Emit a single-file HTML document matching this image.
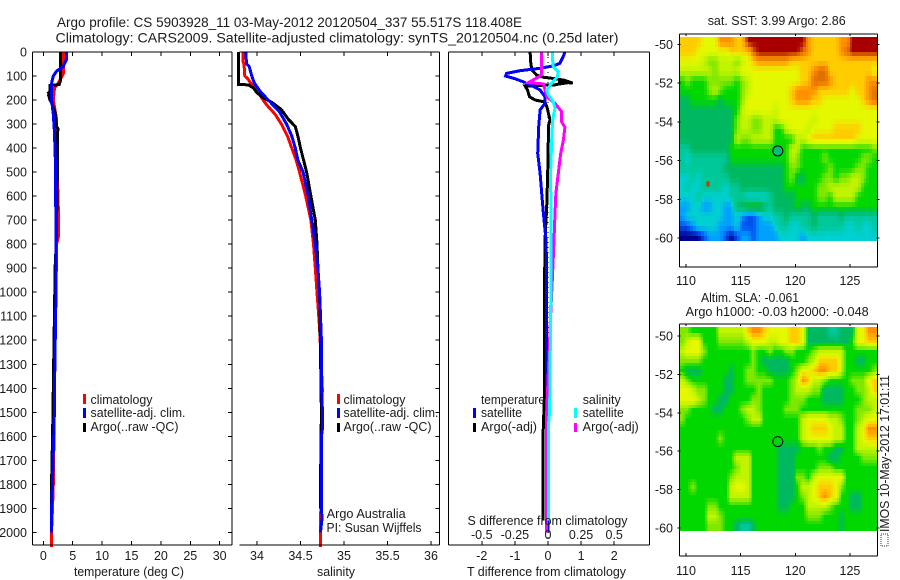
<!DOCTYPE html>
<html>
<head>
<meta charset="utf-8">
<title>Argo profile</title>
<style>
html,body{margin:0;padding:0;background:#fff;}
svg{display:block;font-family:"Liberation Sans",sans-serif;fill:#000;}
text{font-size:12.5px;fill:#1a1a1a;}
.t{font-size:14px;}
</style>
</head>
<body>
<svg id="chart" xmlns="http://www.w3.org/2000/svg" width="900" height="580" viewBox="0 0 900 580">
<rect x="0" y="0" width="900" height="580" fill="#fff"/>
<text class="t" x="57" y="27" textLength="465" lengthAdjust="spacingAndGlyphs">Argo profile: CS 5903928_11 03-May-2012 20120504_337 55.517S 118.408E</text>
<text class="t" x="55.5" y="42.5" textLength="563" lengthAdjust="spacingAndGlyphs">Climatology: CARS2009. Satellite-adjusted climatology: synTS_20120504.nc (0.25d later)</text>

<g id="temp-panel"></g>
<g id="sal-panel"></g>
<g id="diff-panel"></g>
<g id="sst-map"></g>
<g id="sla-map"></g>

<text x="74" y="576" textLength="110" lengthAdjust="spacingAndGlyphs">temperature (deg C)</text>
<text x="317" y="576" textLength="38" lengthAdjust="spacingAndGlyphs">salinity</text>
<text x="467" y="576" textLength="159" lengthAdjust="spacingAndGlyphs">T difference from climatology</text>
<text x="467.5" y="525" textLength="160" lengthAdjust="spacingAndGlyphs">S difference from climatology</text>

<g>
<rect x="83" y="394" width="3" height="10" fill="#f00"/>
<text x="90.5" y="404" textLength="62" lengthAdjust="spacingAndGlyphs">climatology</text>
<rect x="83" y="408" width="3" height="10" fill="#00f"/>
<text x="90.5" y="417" textLength="95" lengthAdjust="spacingAndGlyphs">satellite-adj. clim.</text>
<rect x="83" y="423" width="3" height="9" fill="#000"/>
<text x="90.5" y="431" textLength="88" lengthAdjust="spacingAndGlyphs">Argo(..raw -QC)</text>
</g>
<g>
<rect x="337" y="394" width="3" height="10" fill="#f00"/>
<text x="343.5" y="404" textLength="62" lengthAdjust="spacingAndGlyphs">climatology</text>
<rect x="337" y="408" width="3" height="10" fill="#00f"/>
<text x="343.5" y="417" textLength="95" lengthAdjust="spacingAndGlyphs">satellite-adj. clim.</text>
<rect x="337" y="423" width="3" height="9" fill="#000"/>
<text x="343.5" y="431" textLength="88" lengthAdjust="spacingAndGlyphs">Argo(..raw -QC)</text>
</g>
<text x="326.7" y="518" textLength="79" lengthAdjust="spacingAndGlyphs">Argo Australia</text>
<text x="326.5" y="532" textLength="95" lengthAdjust="spacingAndGlyphs">PI: Susan Wijffels</text>
<g>
<text x="481" y="404" textLength="64" lengthAdjust="spacingAndGlyphs">temperature</text>
<rect x="473" y="408" width="3" height="10" fill="#00f"/>
<text x="481" y="417" textLength="41" lengthAdjust="spacingAndGlyphs">satellite</text>
<rect x="473" y="423" width="3" height="9" fill="#000"/>
<text x="481" y="431" textLength="56" lengthAdjust="spacingAndGlyphs">Argo(-adj)</text>
<text x="582.7" y="404" textLength="38" lengthAdjust="spacingAndGlyphs">salinity</text>
<rect x="574" y="408" width="3" height="10" fill="#0ff"/>
<text x="582.7" y="417" textLength="41" lengthAdjust="spacingAndGlyphs">satellite</text>
<rect x="574" y="423" width="3" height="9" fill="#f0f"/>
<text x="582.7" y="431" textLength="56" lengthAdjust="spacingAndGlyphs">Argo(-adj)</text>
</g>

<text x="707.7" y="25" textLength="138" lengthAdjust="spacingAndGlyphs">sat. SST: 3.99 Argo: 2.86</text>
<text x="701" y="302" textLength="98" lengthAdjust="spacingAndGlyphs">Altim. SLA: -0.061</text>
<text x="685.7" y="316" textLength="183" lengthAdjust="spacingAndGlyphs">Argo h1000: -0.03 h2000: -0.048</text>

<g transform="translate(889,532) rotate(-90)">
<text x="0" y="0" textLength="157" lengthAdjust="spacingAndGlyphs">IMOS 10-May-2012 17:01:11</text>
</g>
<rect x="881" y="534" width="7" height="12" fill="#fff" stroke="#333" stroke-width="1" stroke-dasharray="1 1"/>
</svg>

<script>
// ---- depth axis
const depthTicks = [0,100,200,300,400,500,600,700,800,900,1000,1100,1200,1300,1400,1500,1600,1700,1800,1900,2000];

// ---- temperature panel data
const tempTicks = [0,5,10,15,20,25,30];
const tempClimDepth = [0,90,130,150,200,280,400,650,770,800,1000,1400,1750,1800,1900,2000,2060];
const tempClimValue = [3.4,3.4,2.55,1.9,1.7,2.27,2.27,2.55,2.55,2.27,2.16,1.9,1.73,1.7,1.56,1.4,1.4];
const tempArgoDepth = [0,120,135,140,165,170,175,180,200,210,250,310,320,340,500,650,800,900,1000,1400,1500,1600,1700,1800,1850,1900];
const tempArgoValue = [2.9,2.9,2.7,1.14,1.14,0.9,1.14,0.9,1.14,1.4,2.0,2.27,2.5,2.4,2.4,2.3,2.2,2.0,1.95,1.7,1.65,1.56,1.5,1.39,1.39,1.42];
const tempSatDepth = [0,30,60,80,100,130,200,260,330,480,900,1000,1400,1550,1600,1800,1850,1900,2000];
const tempSatValue = [3.97,3.97,3.4,2.27,1.7,1.42,1.42,1.7,1.88,2.1,2.16,2.16,1.9,1.85,1.77,1.55,1.5,1.4,1.37];

// ---- salinity panel data
const salTicks = [34,34.5,35,35.5,36];
const salClimDepth = [0,40,50,100,110,130,160,200,220,260,300,350,400,450,500,600,700,800,900,1000,1150,1400,2000,2060];
const salClimValue = [33.84,33.84,33.85,33.86,33.89,33.93,34.0,34.07,34.11,34.21,34.28,34.35,34.4,34.45,34.49,34.56,34.62,34.65,34.67,34.69,34.72,34.75,34.73,34.73];
const salArgoDepth = [0,135,137,150,170,190,210,240,280,310,350,400,500,600,700,800,900,1000,1500,1800,1900];
const salArgoValue = [33.79,33.79,33.9,33.96,34.0,34.07,34.17,34.28,34.36,34.44,34.47,34.5,34.57,34.62,34.67,34.69,34.7,34.72,34.74,34.73,34.73];
const salSatDepth = [0,50,60,100,130,170,200,250,300,350,400,450,500,600,700,800,900,1000,1200,1450,1500,1560,1600,1700,1950,2000];
const salSatValue = [33.87,33.88,33.91,33.94,33.97,34.05,34.13,34.26,34.34,34.4,34.44,34.47,34.53,34.59,34.63,34.67,34.7,34.72,34.74,34.745,34.755,34.755,34.74,34.74,34.745,34.73];

// ---- difference panel data
const diffTTicks = [-2,-1,0,1,2];
const diffSTickLabels = ["-0.5","-0.25","0","0.25","0.5"];
const diffTArgoDepth = [0,47,75,96,105,112,118,130,122,128,134,136,142,158,186,200,208,235,283,311,366,505,644,783,922,1400,1600,1950];
const diffTArgoValue = [-0.54,-0.52,-0.49,-0.34,-0.14,0.26,0.5,0.75,0.3,0.6,0.3,0.26,-0.69,-0.62,-0.56,-0.39,-0.09,-0.02,0.06,0.01,0.01,-0.01,-0.04,-0.09,-0.1,-0.1,-0.15,-0.15];
const diffTSatDepth = [0,19,47,58,68,78,89,100,111,124,137,158,186,214,241,311,422,505,588,672,783,922,1400,2000];
const diffTSatValue = [0.51,0.46,0.36,0.16,-0.24,-0.85,-1.25,-1.28,-1.0,-0.75,-0.54,-0.24,-0.09,-0.09,-0.24,-0.28,-0.31,-0.24,-0.19,-0.14,-0.06,-0.04,-0.05,0.0];
const diffSArgoDepth = [0,89,100,128,133,158,186,214,248,290,314,366,422,505,588,672,783,922,1100,1500,2000];
const diffSArgoValue = [-0.048,-0.048,-0.06,-0.149,-0.035,-0.023,-0.01,0.053,0.103,0.103,0.128,0.116,0.096,0.078,0.06,0.053,0.045,0.035,0.02,-0.01,-0.013];
const diffSSatDepth = [0,33,61,82,103,130,158,179,207,235,283,366,505,700,1000,1500,1560,1950];
const diffSSatValue = [0.035,0.035,0.04,0.078,0.07,0.028,-0.01,0.003,0.04,0.053,0.035,0.028,0.02,0.023,0.022,0.012,0.002,0.002];

// ---- map data (colour levels, rows north to south, 0.5 degree cells)
const mapLonTicks = [110,115,120,125];
const mapLatTicks = [-50,-52,-54,-56,-58,-60];
const sstFloat = [{lon:118.4,lat:-55.5,level:4.6}];
const slaFloat = [{lon:118.4,lat:-55.5}];
const sstSpots = [{lon:112,lat:-57.2,level:12.5}];
const sstLevels = [
[10,10,10,10,9,9,9,11,11,11,10,10,13,13,13,13,13,13,13,13,13,13,13,11,10,10,10,10,10,11,11,13,13,13,13,13],
[10,10,10,9,9,9,9,9,9,10,10,10,10,12,13,13,13,13,13,13,13,13,12,11,10,10,10,10,10,11,12,13,13,13,13,13],
[9,9,9,9,8,7,7,8,8,8,7,8,9,10,11,11,11,11,11,11,10,10,10,10,10,10,10,10,10,10,10,10,10,10,10,10],
[8,8,8,8,8,8,7,8,8,8,8,9,9,9,9,9,9,9,9,9,9,9,10,10,11,12,12,10,10,10,10,10,10,10,10,9],
[6,7,6,6,6,7,7,7,7,7,6,7,8,9,9,9,9,9,9,9,9,9,10,10,12,12,12,11,10,10,10,10,10,10,11,11],
[6,6,6,6,6,7,8,7,6,6,6,7,8,9,9,9,9,9,9,9,10,11,11,11,11,10,10,10,10,10,10,9,10,10,11,12],
[5,5,6,6,6,6,6,5,6,6,6,7,9,9,9,9,9,9,9,9,10,11,11,11,10,10,9,9,9,9,9,9,9,10,11,12],
[5,5,5,5,5,5,5,5,5,5,6,8,9,9,9,9,9,8,9,9,9,9,9,9,9,9,9,9,9,9,9,9,9,9,9,9],
[5,5,5,5,5,5,5,5,5,5,7,8,8,7,7,8,8,8,9,9,9,9,9,9,8,9,9,9,9,9,9,9,9,9,9,9],
[5,5,5,5,5,5,5,5,5,5,7,8,8,7,7,8,8,6,6,8,9,9,9,8,9,9,9,9,10,10,10,10,10,9,9,9],
[5,5,5,5,5,5,5,5,5,5,8,7,7,8,8,8,8,6,6,6,6,8,8,9,10,10,10,10,10,10,10,10,9,9,9,9],
[4,4,5,5,5,5,5,5,5,6,6,6,6,6,6,6,6,6,6,6,8,8,6,6,6,6,6,6,6,6,6,6,6,6,6,7],
[4,3,4,4,4,4,4,4,4,6,6,6,6,6,6,6,6,6,6,6,8,7,6,6,6,6,7,6,6,6,6,6,6,7,7,6],
[4,4,4,4,4,4,4,4,5,5,5,5,5,5,5,5,5,5,5,6,7,7,6,6,6,6,6,7,6,6,6,6,7,7,6,6],
[3,3,4,3,4,4,4,4,4,5,5,5,5,5,5,5,5,5,5,6,7,5,5,6,6,6,7,7,6,7,7,8,8,7,6,6],
[3,4,3,3,4,4,4,4,3,4,4,5,5,5,5,5,5,5,5,6,6,6,6,6,6,7,7,8,8,8,8,8,8,6,6,6],
[3,3,3,4,3,3,3,3,3,4,4,4,3,3,3,3,4,5,5,5,5,6,6,6,6,7,7,6,8,8,8,8,6,6,6,6],
[2,2,3,3,2,2,3,3,2,2,5,5,6,6,6,5,4,5,5,5,5,6,5,5,6,6,6,6,6,6,6,6,6,6,6,6],
[2,3,3,3,3,3,3,3,2,2,3,2,1,1,2,3,3,4,4,5,4,4,4,4,5,4,4,4,4,5,4,4,4,4,4,4],
[1,1,2,3,3,3,3,2,2,2,3,1,1,1,2,2,2,3,4,4,3,3,4,4,5,4,4,4,4,4,3,3,4,3,3,4],
[0,0,0,0,1,2,2,2,1,0,1,2,2,1,2,2,2,2,3,3,3,3,2,3,3,3,3,3,3,3,3,3,3,3,3,3]
];
const slaLevels = [
[7,7,6,6,6,6,6,8,8,8,8,8,10,11,11,10,9,9,9,9,10,10,9,5,5,5,5,4,4,5,5,5,9,9,11,11],
[7,8,9,9,6,6,6,7,7,7,7,7,8,9,9,9,8,8,9,9,10,10,9,5,5,5,5,5,5,5,5,6,9,9,10,10],
[8,9,9,9,7,6,6,6,6,6,6,6,6,7,6,6,7,6,6,7,7,6,6,6,7,8,8,8,8,8,6,6,6,6,6,6],
[7,7,7,7,6,6,6,6,6,6,6,6,6,7,6,5,5,5,5,5,6,6,6,7,8,10,10,10,10,8,6,6,5,5,6,6],
[6,5,5,5,6,6,6,6,6,5,6,6,7,7,6,6,5,5,5,5,6,7,9,9,10,11,11,10,10,8,6,6,6,6,6,7],
[8,7,6,6,6,6,6,6,5,5,6,6,7,7,7,7,7,6,6,6,7,8,11,10,8,8,7,6,6,6,6,7,7,7,9,10],
[9,9,8,7,7,6,6,6,5,5,6,6,6,6,7,6,6,6,6,6,7,8,8,8,7,7,5,5,5,5,6,6,7,7,8,10],
[9,9,9,8,7,6,6,5,5,6,6,6,6,7,7,6,6,6,6,6,7,7,7,6,6,6,5,5,5,5,6,6,6,7,8,8],
[7,7,6,6,6,6,5,5,6,6,6,7,8,8,7,6,6,6,6,7,7,7,6,6,6,6,6,6,6,6,6,6,7,7,7,8],
[7,6,6,6,6,6,6,6,6,6,6,6,7,8,8,6,6,6,6,6,6,6,8,9,9,9,9,8,8,7,6,6,7,8,9,9],
[6,6,6,6,6,6,6,6,6,6,6,6,6,6,6,6,6,6,6,6,6,6,8,9,10,10,10,9,8,8,6,6,8,9,11,11],
[6,6,6,6,6,6,6,7,6,6,6,6,6,6,6,6,6,6,6,6,6,6,8,9,9,9,9,9,8,8,6,6,8,9,10,10],
[6,6,6,6,6,6,6,6,6,6,6,6,6,6,6,6,6,6,5,5,5,5,6,6,6,7,6,6,5,5,6,6,8,8,8,8],
[6,6,6,6,6,6,6,6,6,6,8,8,8,6,6,6,6,6,5,5,5,6,6,6,6,6,6,5,5,6,6,6,6,7,7,7],
[6,6,6,6,6,6,6,6,6,6,7,8,8,6,6,6,6,6,5,5,5,6,6,6,6,7,7,7,6,6,6,6,6,6,6,6],
[6,6,6,6,6,6,6,6,6,7,8,8,8,6,6,6,6,6,5,5,5,7,7,6,8,9,9,9,9,9,6,6,6,6,6,6],
[6,6,7,6,6,6,6,6,6,8,9,9,8,6,6,6,6,6,5,5,5,6,8,8,9,10,10,10,9,7,6,6,6,6,6,6],
[6,6,6,6,6,6,6,6,6,8,8,8,8,6,6,6,6,6,5,5,5,6,7,8,9,10,11,10,9,6,6,5,5,6,6,6],
[6,6,6,6,6,7,7,6,6,6,6,6,6,6,6,6,6,6,5,5,6,6,6,8,8,8,8,7,6,6,6,5,5,6,6,6],
[6,6,6,6,6,8,8,7,6,6,6,6,6,6,6,6,6,6,6,6,6,6,6,7,7,7,6,6,6,5,6,6,6,6,6,6],
[6,6,6,6,6,7,7,7,6,6,5,4,4,5,6,6,6,6,6,6,6,6,6,6,6,6,6,6,6,5,6,6,6,6,6,6]
];

// ---- style and geometry
const levelColors = [[0,0,144],[0,80,240],[0,160,255],[0,208,208],[0,200,152],[0,184,96],[0,216,0],[128,232,0],[192,244,0],[228,248,0],[255,204,0],[255,144,0],[224,112,0],[168,0,0]];
const SVGNS = "http://www.w3.org/2000/svg";
const depthScale = d => 52 + d * 0.2402;
const tempScale = v => 43.3 + v * 5.88;
const salScale = v => 257 + (v - 34) * 87;
const diffTScale = v => 548 + v * 33.1;
const diffSScale = v => 548 + v * 4 * 33.1;

function create(parent, tag, attrs) {
  const node = document.createElementNS(SVGNS, tag);
  for (const key in attrs) node.setAttribute(key, attrs[key]);
  parent.appendChild(node);
  return node;
}
function levelColor(level) {
  const v = Math.max(0, Math.min(levelColors.length - 1, level));
  const lo = Math.floor(v);
  const hi = Math.min(levelColors.length - 1, lo + 1);
  const f = v - lo;
  const mix = levelColors[lo].map((c, i) => Math.round(c + (levelColors[hi][i] - c) * f));
  return "rgb(" + mix.join(",") + ")";
}
function sampleLevels(levels, r, c) {
  const rows = levels.length;
  const cols = levels[0].length;
  const rc = Math.max(0, Math.min(rows - 1.001, r));
  const cc = Math.max(0, Math.min(cols - 1.001, c));
  const r0 = Math.floor(rc);
  const c0 = Math.floor(cc);
  const fr = rc - r0;
  const fc = cc - c0;
  return levels[r0][c0] * (1 - fr) * (1 - fc) + levels[r0][c0 + 1] * (1 - fr) * fc +
         levels[r0 + 1][c0] * fr * (1 - fc) + levels[r0 + 1][c0 + 1] * fr * fc;
}
function drawTick(parent, x1, y1, x2, y2) {
  const t = create(parent, "line", {x1:x1, y1:y1, x2:x2, y2:y2, stroke:"#000", "stroke-width":1, "shape-rendering":"crispEdges"});
  
  
}
function drawLabel(parent, x, y, str, anchor) {
  const t = create(parent, "text", {x:x, y:y, "text-anchor":anchor});
  t.textContent = str;
  
  
}
function drawSeries(parent, depths, values, xScale, color, name) {
  const pts = depths.map((d, i) => xScale(values[i]).toFixed(1) + "," + depthScale(d).toFixed(1)).join(" ");
  const p = create(parent, "polyline", {points:pts, fill:"none", stroke:color, "stroke-width":3, "stroke-linejoin":"miter", "stroke-miterlimit":6, "shape-rendering":"crispEdges"});
  
  
}
function drawFrame(parent, left, right, top, bottom, sides) {
  const segs = {
    left:[left,top,left,bottom], right:[right,top,right,bottom],
    top:[left,top,right,top], bottom:[left,bottom,right,bottom]
  };
  sides.forEach(s => {
    const c = segs[s];
    const ln = create(parent, "line", {x1:c[0], y1:c[1], x2:c[2], y2:c[3], stroke:"#000", "stroke-width":1, "shape-rendering":"crispEdges"});
    
    
  });
}

// ---- temperature panel
const tempG = document.getElementById("temp-panel");
drawSeries(tempG, tempClimDepth, tempClimValue, tempScale, "#f00", "temperature-climatology-line");
drawSeries(tempG, tempArgoDepth, tempArgoValue, tempScale, "#000", "temperature-argo-line");
drawSeries(tempG, tempSatDepth, tempSatValue, tempScale, "#00f", "temperature-satellite-line");
drawFrame(tempG, 32.5, 232, 52, 545, ["left","right","top","bottom"]);
depthTicks.forEach(d => {
  drawTick(tempG, 32.5, depthScale(d), 36.5, depthScale(d));
  drawTick(tempG, 228, depthScale(d), 232, depthScale(d));
  drawLabel(tempG, 27, depthScale(d) + 4.5, String(d), "end");
});
tempTicks.forEach(v => {
  drawTick(tempG, tempScale(v), 52, tempScale(v), 56);
  drawTick(tempG, tempScale(v), 541, tempScale(v), 545);
  drawLabel(tempG, tempScale(v), 560, String(v), "middle");
});

// ---- salinity panel
const salG = document.getElementById("sal-panel");
drawSeries(salG, salClimDepth, salClimValue, salScale, "#f00", "salinity-climatology-line");
drawSeries(salG, salArgoDepth, salArgoValue, salScale, "#000", "salinity-argo-line");
drawSeries(salG, salSatDepth, salSatValue, salScale, "#00f", "salinity-satellite-line");
drawFrame(salG, 239.5, 439.5, 52, 545, ["right","top","bottom"]);
depthTicks.forEach(d => {
  drawTick(salG, 435.5, depthScale(d), 439.5, depthScale(d));
});
salTicks.forEach(v => {
  drawTick(salG, salScale(v), 52, salScale(v), 56);
  drawTick(salG, salScale(v), 541, salScale(v), 545);
  drawLabel(salG, salScale(v), 560, String(v), "middle");
});

// ---- difference panel
const diffG = document.getElementById("diff-panel");
const zeroLine = create(diffG, "line", {x1:diffTScale(0), y1:52, x2:diffTScale(0), y2:545, stroke:"#000", "stroke-width":1, "stroke-dasharray":"1 4", "shape-rendering":"crispEdges"});


drawSeries(diffG, diffTArgoDepth, diffTArgoValue, diffTScale, "#000", "t-difference-argo-line");
drawSeries(diffG, diffTSatDepth, diffTSatValue, diffTScale, "#00f", "t-difference-satellite-line");
drawSeries(diffG, diffSArgoDepth, diffSArgoValue, diffSScale, "#f0f", "s-difference-argo-line");
drawSeries(diffG, diffSSatDepth, diffSSatValue, diffSScale, "#0ff", "s-difference-satellite-line");
drawFrame(diffG, 448.5, 649.5, 52, 545, ["left","right","top","bottom"]);
diffTTicks.forEach((v, i) => {
  drawTick(diffG, diffTScale(v), 52, diffTScale(v), 56);
  drawTick(diffG, diffTScale(v), 541, diffTScale(v), 545);
  drawLabel(diffG, diffTScale(v), 560, String(v), "middle");
  drawLabel(diffG, diffTScale(v), 539, diffSTickLabels[i], "middle");
});

// ---- maps
const lonScale = lon => 686 + (lon - 110) * 10.93;
const lonEdges = [109.36, 127.5];
function drawMap(groupId, levels, top, latScale, frameTop, frameBottom, labelY, sub, name) {
  const g = document.getElementById(groupId);
  const rows = levels.length * sub;
  const cols = levels[0].length * sub;
  const lonStep = (lonEdges[1] - lonEdges[0]) / cols;
  const rowH = 9.7 / sub;
  for (let r = 0; r < rows; r++) {
    for (let c = 0; c < cols; c++) {
      const lv = sampleLevels(levels, (r + 0.5) / sub - 0.5, (c + 0.5) / sub - 0.5);
      const x0 = Math.round(lonScale(lonEdges[0] + c * lonStep));
      const x1 = Math.round(lonScale(lonEdges[0] + (c + 1) * lonStep));
      const y0 = Math.round(top + r * rowH);
      const y1 = Math.round(top + (r + 1) * rowH);
      const cell = create(g, "rect", {x:x0, y:y0, width:x1 - x0, height:y1 - y0, fill:levelColor(lv), "shape-rendering":"crispEdges"});
      
      
    }
  }
  drawFrame(g, 679.5, 877.5, frameTop, frameBottom, ["left","right","top","bottom"]);
  mapLonTicks.forEach(lon => {
    drawTick(g, lonScale(lon), frameTop, lonScale(lon), frameTop + 2);
    drawTick(g, lonScale(lon), frameBottom - 3, lonScale(lon), frameBottom);
    drawLabel(g, lonScale(lon), labelY, String(lon), "middle");
  });
  mapLatTicks.forEach(lat => {
    drawTick(g, 677.5, latScale(lat), 680.5, latScale(lat));
    drawTick(g, 876.5, latScale(lat), 879.5, latScale(lat));
    drawLabel(g, 673, latScale(lat) + 4.5, String(lat), "end");
  });
  return g;
}
const sstLatScale = lat => 44.5 + (-50 - lat) * 19.35;
const slaLatScale = lat => 336 + (-50 - lat) * 19.2;
const sstG = drawMap("sst-map", sstLevels, 37, sstLatScale, 34, 267, 285, 2, "sst");
sstSpots.forEach(s => {
  const spot = create(sstG, "rect", {x:lonScale(s.lon) - 1.5, y:sstLatScale(s.lat) - 2.5, width:3, height:5, fill:levelColor(s.level), "shape-rendering":"crispEdges"});
  
  
});
sstFloat.forEach(f => {
  const c = create(sstG, "circle", {cx:lonScale(f.lon), cy:sstLatScale(f.lat), r:5, fill:levelColor(f.level), stroke:"#000", "stroke-width":1});
  
  
});
const slaG = drawMap("sla-map", slaLevels, 327, slaLatScale, 324, 556, 575, 3, "sla");
slaFloat.forEach(f => {
  const c = create(slaG, "circle", {cx:lonScale(f.lon), cy:slaLatScale(f.lat), r:5, fill:"none", stroke:"#000", "stroke-width":1});
  
  
});
</script>
</body>
</html>
